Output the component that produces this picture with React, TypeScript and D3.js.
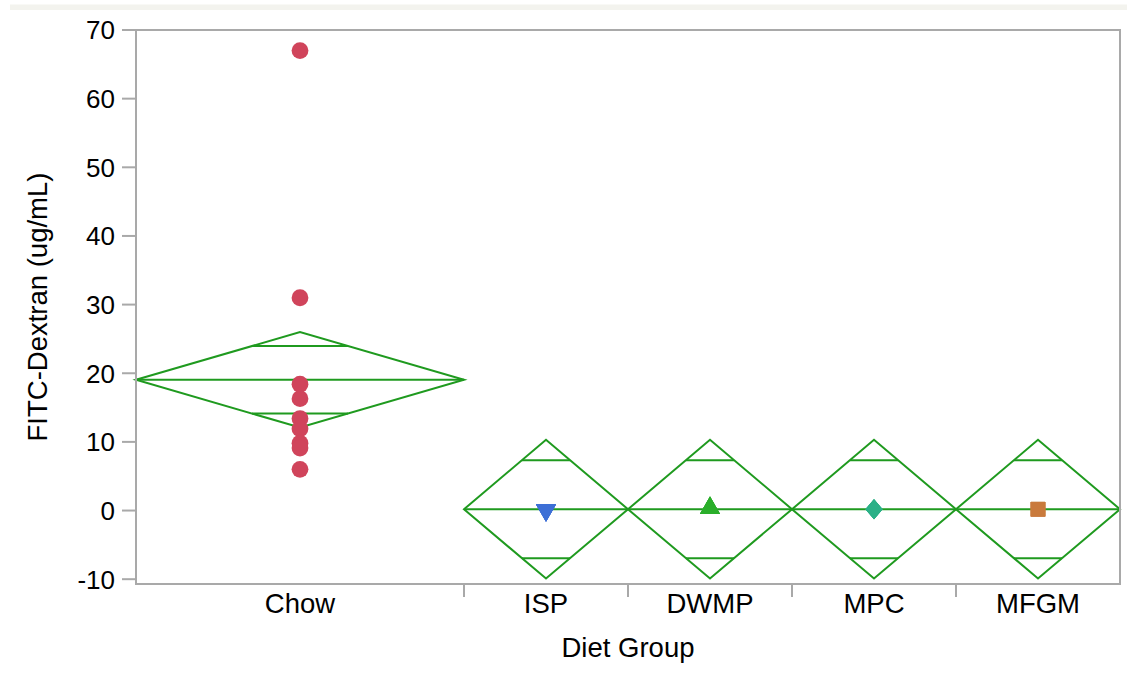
import React from "react";
import * as d3 from "d3";

// Diet groups, in axis order
const groups = ["Chow", "ISP", "DWMP", "MPC", "MFGM"];
// Animals per group (sets each group's share of the x axis)
const groupN = [10, 5, 5, 5, 5];
// Group means and 95% CI half-widths (means diamonds)
const groupMean = [19.05, 0.2, 0.2, 0.2, 0.2];
const groupCiHalf = [6.95, 10.1, 10.1, 10.1, 10.1];

// Individual FITC-Dextran readings (ug/mL)
const chowValues = [67, 31, 18.4, 16.3, 13.4, 11.9, 9.8, 9.1, 6.0];
const ispValues = [0.2, 0.2, 0.2, 0.2, 0.2];
const dwmpValues = [0.2, 0.2, 0.2, 0.2, 0.2];
const mpcValues = [0.2, 0.2, 0.2, 0.2, 0.2];
const mfgmValues = [0.2, 0.2, 0.2, 0.2, 0.2];
const groupValues = [chowValues, ispValues, dwmpValues, mpcValues, mfgmValues];

const yTicks = [-10, 0, 10, 20, 30, 40, 50, 60, 70];

const W = 1127;
const H = 674;
const plot = { left: 136, right: 1120, top: 30, bottom: 584 };
const FONT = "'Liberation Sans', Arial, Helvetica, sans-serif";
const FS_TICK = 26;
const FS_LABEL = 27.5;
const GREEN = "#1f9a1f";
const AXIS = "#a9a9a9";

const markerColor = ["#d0445b", "#3d6fd6", "#2aae2a", "#2bb087", "#c97a3c"];

export default function App() {
  const y = d3.scaleLinear().domain([-10.7, 70]).range([plot.bottom, plot.top]);

  // x extent of each group proportional to its sample size
  const total = d3.sum(groupN);
  const x = d3.scaleLinear().domain([0, total]).range([plot.left, plot.right]);
  const cum = d3.cumsum(groupN);
  const bands = groups.map((g, i) => {
    const x0 = x(cum[i] - groupN[i]);
    const x1 = x(cum[i]);
    return { g, i, x0, x1, cx: (x0 + x1) / 2 };
  });

  const line = d3.line<[number, number]>();

  const marker = (i: number, cx: number, cy: number, key: string) => {
    const c = markerColor[i];
    if (i === 0) return <circle key={key} cx={cx} cy={cy} r={8.4} fill={c} />;
    if (i === 1) {
      const p = d3.symbol(d3.symbolTriangle, 175)();
      return <path key={key} d={p || ""} fill={c} transform={`translate(${cx},${cy + 1}) rotate(180)`} />;
    }
    if (i === 2) {
      const p = d3.symbol(d3.symbolTriangle, 175)();
      return <path key={key} d={p || ""} fill={c} transform={`translate(${cx},${cy - 1})`} />;
    }
    if (i === 3) {
      const pts: [number, number][] = [
        [cx, cy - 10],
        [cx + 8.5, cy],
        [cx, cy + 10],
        [cx - 8.5, cy],
      ];
      return <path key={key} d={line(pts) + "Z"} fill={c} />;
    }
    const p = d3.symbol(d3.symbolSquare, 210)();
    return <path key={key} d={p || ""} fill={c} transform={`translate(${cx},${cy})`} />;
  };

  return (
    <svg
      width={W}
      height={H}
      style={{ position: "absolute", left: 0, top: 0, background: "#fff" }}
      fontFamily={FONT}
    >
      <rect x={10} y={4.5} width={W - 10} height={5.5} fill="#f3f3ee" />

      {/* means diamonds */}
      {bands.map((b) => {
        const m = groupMean[b.i];
        const h = groupCiHalf[b.i];
        const half = (b.x1 - b.x0) / 2;
        const dia: [number, number][] = [
          [b.x0, y(m)],
          [b.cx, y(m + h)],
          [b.x1, y(m)],
          [b.cx, y(m - h)],
        ];
        const ov = h / Math.SQRT2;
        const ovHalf = half * (1 - ov / h);
        return (
          <g key={b.g} stroke={GREEN} strokeWidth={2} fill="none">
            <path d={line(dia) + "Z"} />
            <path d={line([[b.x0, y(m)], [b.x1, y(m)]]) || ""} />
            <path d={line([[b.cx - ovHalf, y(m + ov)], [b.cx + ovHalf, y(m + ov)]]) || ""} />
            <path d={line([[b.cx - ovHalf, y(m - ov)], [b.cx + ovHalf, y(m - ov)]]) || ""} />
          </g>
        );
      })}

      {/* points */}
      {bands.map((b) =>
        groupValues[b.i].map((v, k) => marker(b.i, b.cx, y(v), `${b.g}-${k}`))
      )}

      {/* frame */}
      <rect
        x={plot.left}
        y={plot.top}
        width={plot.right - plot.left}
        height={plot.bottom - plot.top}
        fill="none"
        stroke={AXIS}
        strokeWidth={2}
      />

      {/* y axis */}
      {yTicks.map((t) => (
        <g key={t}>
          <line x1={122} x2={plot.left} y1={y(t)} y2={y(t)} stroke={AXIS} strokeWidth={2} />
          <text x={115} y={y(t)} dy="0.36em" textAnchor="end" fontSize={FS_TICK} fill="#000">
            {t}
          </text>
        </g>
      ))}
      <text
        transform={`translate(47,${(plot.top + plot.bottom) / 2}) rotate(-90)`}
        textAnchor="middle"
        fontSize={FS_LABEL}
        fill="#000"
      >
        FITC-Dextran (ug/mL)
      </text>

      {/* x axis */}
      {bands.slice(1).map((b) => (
        <line key={b.g} x1={b.x0} x2={b.x0} y1={plot.bottom} y2={plot.bottom + 13} stroke={AXIS} strokeWidth={2} />
      ))}
      {bands.map((b) => (
        <text key={b.g} x={b.cx} y={613} textAnchor="middle" fontSize={FS_LABEL} fill="#000">
          {b.g}
        </text>
      ))}
      <text x={(plot.left + plot.right) / 2} y={657} textAnchor="middle" fontSize={FS_LABEL} fill="#000">
        Diet Group
      </text>
    </svg>
  );
}
